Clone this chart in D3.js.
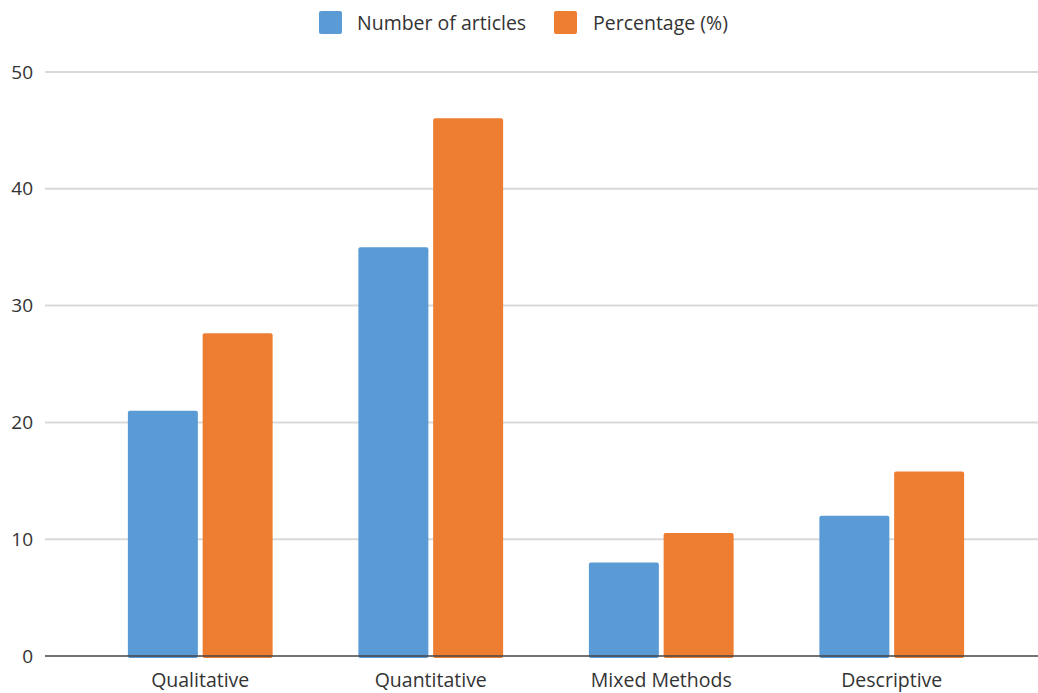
<!DOCTYPE html>
<html><head><meta charset="utf-8">
<script src="https://cdn.jsdelivr.net/npm/d3@7"></script>
<style>body{margin:0;background:#fff;}svg{display:block;font-family:"Open Sans",sans-serif;}</style>
</head><body><svg id="c" width="1038" height="693"></svg>
<script>
const categories = ["Qualitative","Quantitative","Mixed Methods","Descriptive"];
const seriesNames = ["Number of articles","Percentage (%)"];
const articles = [21,35,8,12];
const percentage = [27.63,46.05,10.53,15.79];
const yTicks = [0,10,20,30,40,50];
const colors = ["#5B9BD5","#ED7D31"];

const svg = d3.select("#c");
const gridLeft=45, gridRight=1038;
const y = d3.scaleLinear().domain([0,50]).range([656,72]);
const x = d3.scaleBand().domain(categories).range([85,1007]).paddingInner(0.372).paddingOuter(0.186);
const xs = d3.scaleBand().domain(seriesNames).range([0,x.bandwidth()]).paddingInner(0.064);

svg.append("g").selectAll("line").data(yTicks.filter(d=>d>0)).join("line")
  .attr("x1",gridLeft).attr("x2",gridRight).attr("y1",d=>y(d)).attr("y2",d=>y(d))
  .attr("stroke","#d9d9d9").attr("stroke-width",2);
svg.append("g").selectAll("text").data(yTicks).join("text")
  .attr("x",33).attr("y",d=>y(d)).attr("dy","0.35em").attr("text-anchor","end")
  .attr("font-size",19).attr("fill","#333").text(d=>d);

const data = categories.map((c,i)=>({c, vals:[articles[i],percentage[i]]}));
const g = svg.append("g").selectAll("g").data(data).join("g")
  .attr("transform",d=>`translate(${x(d.c)},0)`);
g.selectAll("rect").data(d=>d.vals.map((v,j)=>({v,s:seriesNames[j],j}))).join("rect")
  .attr("x",d=>xs(d.s)).attr("width",xs.bandwidth())
  .attr("y",d=>y(d.v)).attr("height",d=>y(0)-y(d.v)+2)
  .attr("rx",2).attr("fill",d=>colors[d.j]);

svg.append("line").attr("x1",gridLeft).attr("x2",gridRight).attr("y1",y(0)).attr("y2",y(0))
  .attr("stroke","#444").attr("stroke-width",1.5);

svg.append("g").selectAll("text").data(categories).join("text")
  .attr("x",d=>x(d)+x.bandwidth()/2).attr("y",687).attr("text-anchor","middle")
  .attr("font-size",19.5).attr("fill","#333").text(d=>d);

const leg = [{x:319,tx:357},{x:554,tx:593}];
const lg = svg.append("g").selectAll("g").data(seriesNames).join("g");
lg.append("rect").attr("x",(d,i)=>leg[i].x).attr("y",11).attr("width",23).attr("height",23).attr("rx",2)
  .attr("fill",(d,i)=>colors[i]);
lg.append("text").attr("x",(d,i)=>leg[i].tx).attr("y",23).attr("dy","0.35em")
  .attr("font-size",19.5).attr("fill","#333").text(d=>d);
</script></body></html>
